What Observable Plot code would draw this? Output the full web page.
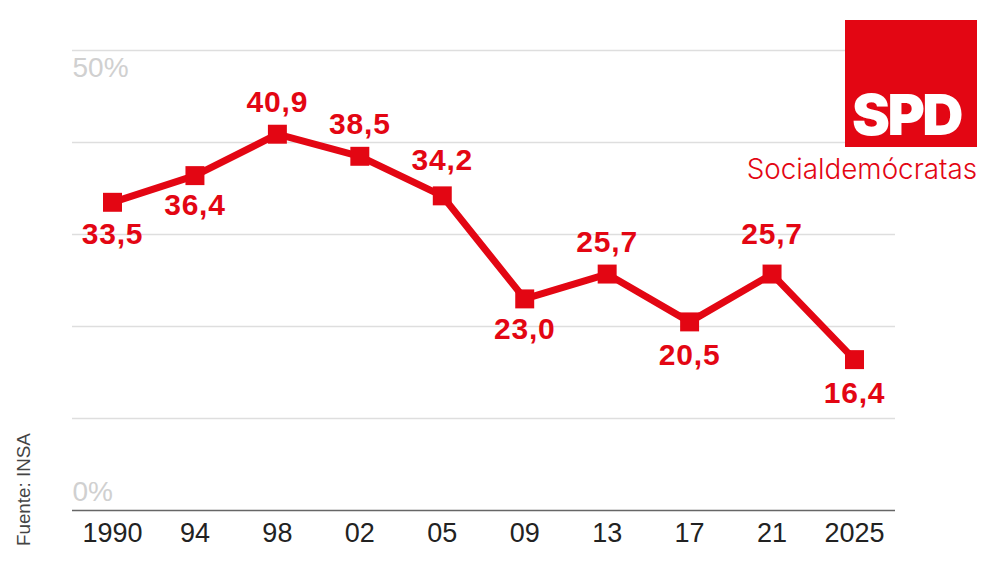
<!DOCTYPE html>
<html>
<head>
<meta charset="utf-8">
<script src="https://cdn.jsdelivr.net/npm/d3@7"></script>
<script src="https://cdn.jsdelivr.net/npm/@observablehq/plot@0.6"></script>
<style>
  body { margin: 0; background: #fff; font-family: "Liberation Sans", sans-serif; }
  #chart { position: relative; width: 1000px; height: 567px; overflow: hidden; }
  #chart svg { position: absolute; left: 0; top: 0; }
  #chart svg .val text { letter-spacing: 0.8px; }
  #logo { position: absolute; left: 845px; top: 20px; width: 132px; height: 127px; background: #e30613; color: #fff; }
  #logo span { position: absolute; left: 7px; top: 60px; font-family: Inter, sans-serif; font-size: 57px; line-height: 70px; font-weight: 900; letter-spacing: -2.5px; }
  #party { position: absolute; right: 23px; top: 152px; color: #e30613; font-family: Inter, sans-serif; font-weight: 300; font-size: 27.8px; white-space: nowrap; }
  #source { position: absolute; left: 13px; top: 546px; color: #444; font-size: 18.8px; transform-origin: 0 0; transform: rotate(-90deg); white-space: nowrap; }
</style>
</head>
<body>
<div id="chart"></div>
<script>
const years = ['1990', '94', '98', '02', '05', '09', '13', '17', '21', '2025']
const shares = [33.5, 36.4, 40.9, 38.5, 34.2, 23.0, 25.7, 20.5, 25.7, 16.4]
const gridTicks = [10, 20, 30, 40, 50]

// label offset per point, the original places them by hand
const labelDy = [32, 30, -32, -32, -35, 30, -32, 33, -40, 34]

const red = '#e30613'
const data = years.map((year, i) => ({year, share: shares[i]}))
const fmt = d => d.share.toFixed(1).replace('.', ',')

let chart = Plot.plot({
  width: 1000,
  height: 567,
  marginTop: 50,
  marginBottom: 57,
  marginLeft: 72,
  marginRight: 105,
  style: {fontFamily: '"Liberation Sans", sans-serif', background: 'transparent'},
  x: {type: 'point', domain: years, range: [112, 854], padding: 0, round: false, label: null},
  y: {domain: [0, 50], label: null},
  marks: [
    Plot.ruleY(gridTicks, {stroke: '#dedede', strokeWidth: 1.5}),
    Plot.ruleY([0], {stroke: '#666', strokeWidth: 1.5}),
    Plot.axisX({tickSize: 0, tickPadding: 12, fontSize: 27, fill: '#222', label: null}),
    Plot.axisY({ticks: [], label: null}),
    Plot.text(['50%'], {y: [50], frameAnchor: 'left', textAnchor: 'start', dy: 18, fontSize: 28, fill: '#d0d0d0'}),
    Plot.text(['0%'], {y: [0], frameAnchor: 'left', textAnchor: 'start', dy: -18, fontSize: 28, fill: '#d0d0d0'}),
    Plot.line(data, {x: 'year', y: 'share', stroke: red, strokeWidth: 7, strokeLinejoin: 'miter'}),
    Plot.dot(data, {x: 'year', y: 'share', symbol: 'square', r: 10.7, fill: red}),
    ...data.map((d, i) => Plot.text([d], {x: 'year', y: 'share', text: fmt, dy: labelDy[i], fontSize: 30, fontWeight: 700, fill: red, className: 'val'}))
  ]
})

const wrap = d3.select('#chart')
wrap.append(() => chart)
wrap.append('div').attr('id', 'logo').append('span').text('SPD')
wrap.append('div').attr('id', 'party').text('Socialdemócratas')
wrap.append('div').attr('id', 'source').text('Fuente: INSA')
</script>
</body>
</html>
